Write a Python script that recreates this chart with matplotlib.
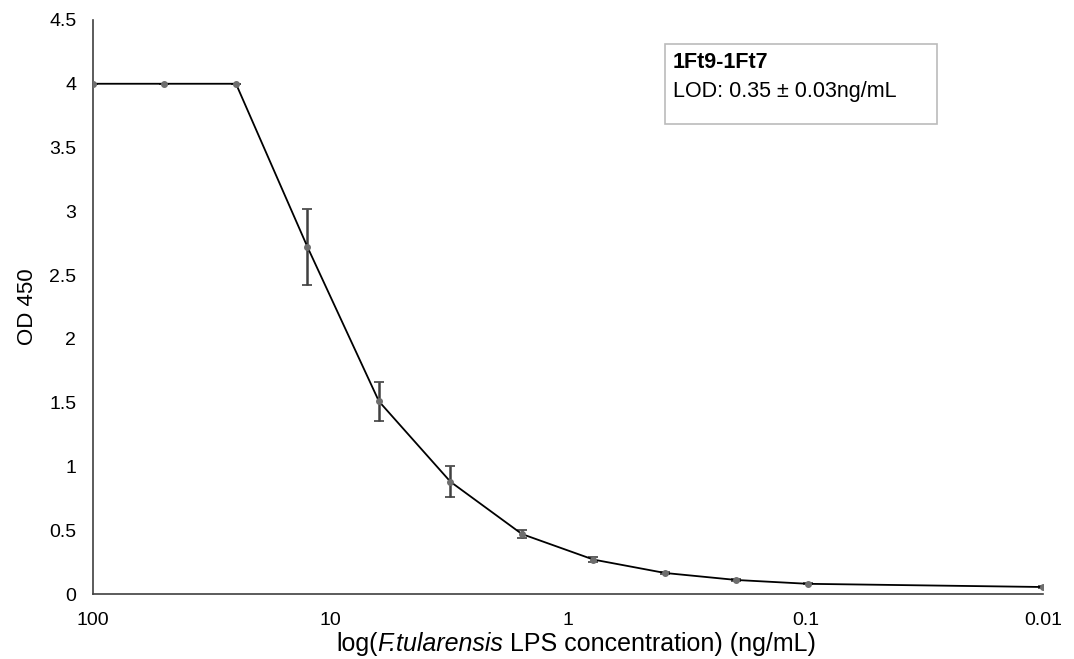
import matplotlib.pyplot as plt
from matplotlib.patches import Rectangle
from matplotlib.ticker import FixedLocator, FixedFormatter

plt.rcParams['font.family'] = ['Liberation Sans', 'DejaVu Sans']

# LPS concentration (ng/mL) and OD 450 readings
conc = [100, 50, 25, 12.5, 6.25, 3.125, 1.5625, 0.78125, 0.390625, 0.1953125, 0.09765625, 0.01]
od = [4.0, 4.0, 4.0, 2.72, 1.51, 0.88, 0.47, 0.27, 0.165, 0.11, 0.08, 0.055]
err = [0, 0, 0, 0.30, 0.15, 0.12, 0.03, 0.02, 0.01, 0.005, 0.005, 0.005]

tick_vals = [100, 10, 1, 0.1, 0.01]
tick_labels = ['100', '10', '1', '0.1', '0.01']
y_ticks = [0, 0.5, 1, 1.5, 2, 2.5, 3, 3.5, 4, 4.5]
y_labels = ['0', '0.5', '1', '1.5', '2', '2.5', '3', '3.5', '4', '4.5']

W, H = 1074, 659
fig = plt.figure(figsize=(W / 100, H / 100), dpi=100)
ax = fig.add_axes([0.0866, 0.0986, 0.8845, 0.8711])

ax.errorbar(conc, od, yerr=err, fmt='none', ecolor='#404040', elinewidth=1.8,
            capsize=3.5, capthick=1.2, zorder=2)
ax.plot(conc, od, color='black', lw=1.3, zorder=3)
ax.plot(conc, od, 'o', color='#6e6e6e', ms=4, zorder=4)

ax.set_xscale('log')
ax.set_xlim(100, 0.01)
ax.set_ylim(0, 4.5)
ax.xaxis.set_major_locator(FixedLocator(tick_vals))
ax.xaxis.set_major_formatter(FixedFormatter(tick_labels))
ax.xaxis.set_minor_locator(FixedLocator([]))
ax.set_yticks(y_ticks)
ax.set_yticklabels(y_labels)
ax.tick_params(axis='y', length=0, labelsize=14, pad=12)
ax.tick_params(axis='x', length=0, labelsize=14, pad=13)

for s in ['top', 'right']:
    ax.spines[s].set_visible(False)
for s in ['left', 'bottom']:
    ax.spines[s].set_color('#404040')
    ax.spines[s].set_linewidth(1.2)

ax.set_ylabel('OD 450', fontsize=16, labelpad=8)

# x label in pieces so only the species name is italic
renderer = fig.canvas.get_renderer()
parts = [('log(', 'normal'), ('F.tularensis', 'italic'), (' LPS concentration) (ng/mL)', 'normal')]
texts = []
total = 0
for s, st in parts:
    t = fig.text(0, 1 - 651 / H, s, fontsize=18, style=st, va='baseline')
    w = t.get_window_extent(renderer).width
    texts.append((t, w))
    total += w
x0 = 576 - total / 2
for t, w in texts:
    t.set_x(x0 / W)
    x0 += w

# annotation box
box = Rectangle((665 / W, 1 - 124 / H), 272 / W, 80 / H, transform=fig.transFigure,
                fill=False, edgecolor='#bbbbbb', lw=1.2)
fig.patches.append(box)
fig.text(673 / W, 1 - 63 / H, '1Ft9-1Ft7', fontsize=15.5, fontweight='bold', va='center')
fig.text(673 / W, 1 - 92 / H, 'LOD: 0.35 ± 0.03ng/mL', fontsize=15.5, va='center')

fig.savefig('out.png', dpi=100)
